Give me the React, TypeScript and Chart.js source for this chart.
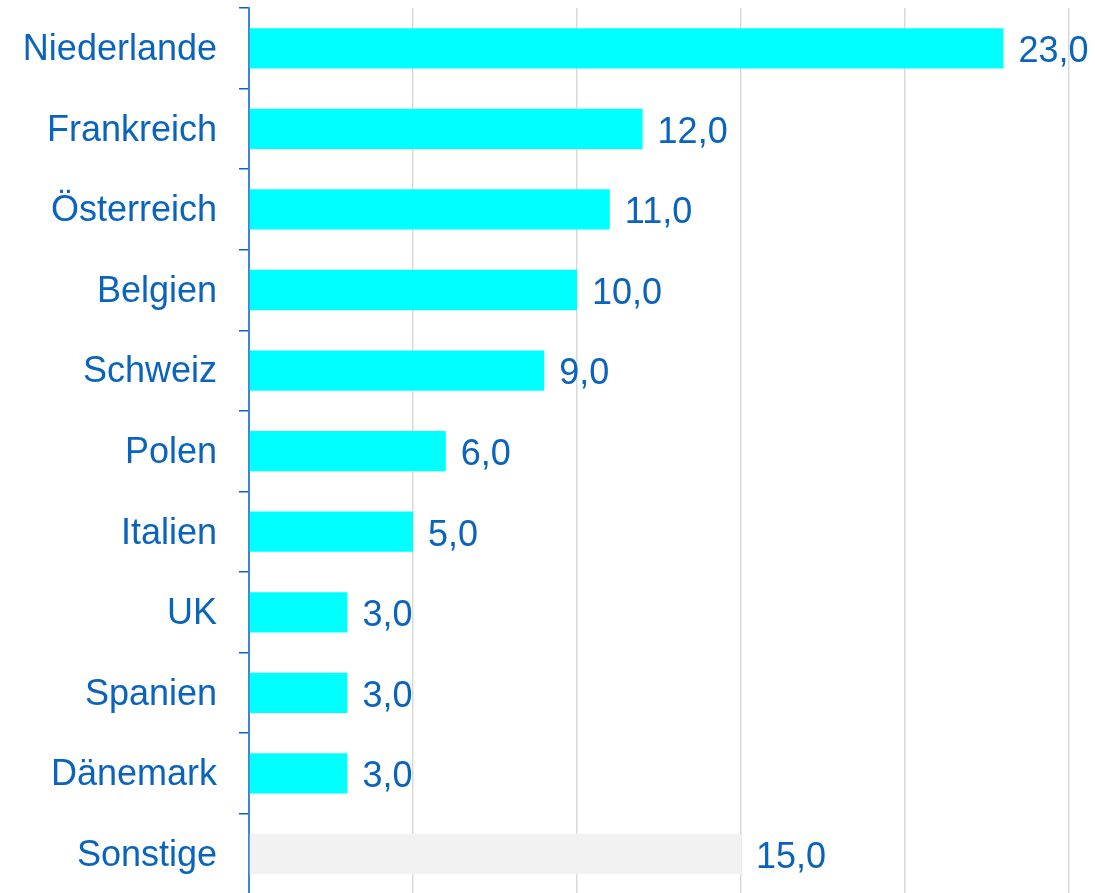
import React, { useEffect, useRef } from "react";
import { Chart, registerables } from "chart.js";

Chart.register(...registerables);

const categories = [
  "Niederlande",
  "Frankreich",
  "Österreich",
  "Belgien",
  "Schweiz",
  "Polen",
  "Italien",
  "UK",
  "Spanien",
  "Dänemark",
  "Sonstige",
];
const values = [23, 12, 11, 10, 9, 6, 5, 3, 3, 3, 15];
const axisMax = 25;
const axisStep = 5;

const BLUE = "#0a64be";
const FONT = "'Liberation Sans', Arial, sans-serif";

const valueLabels = {
  id: "valueLabels",
  afterDatasetsDraw(chart: any) {
    const ctx = chart.ctx;
    const meta = chart.getDatasetMeta(0);
    ctx.save();
    ctx.font = `36px ${FONT}`;
    ctx.fillStyle = BLUE;
    ctx.textAlign = "left";
    ctx.textBaseline = "middle";
    meta.data.forEach((bar: any, i: number) => {
      const v = values[i];
      const txt = v.toFixed(1).replace(".", ",");
      ctx.fillText(txt, bar.x + 15, bar.y + 4);
    });
    ctx.restore();
  },
};

export default function App() {
  const ref = useRef<HTMLCanvasElement | null>(null);
  useEffect(() => {
    if (!ref.current) return;
    const chart = new Chart(ref.current, {
      type: "bar",
      data: {
        labels: categories,
        datasets: [
          {
            data: values,
            backgroundColor: categories.map((c, i) =>
              i === categories.length - 1 ? "#f2f2f2" : "#00ffff"
            ),
            barPercentage: 0.5,
            categoryPercentage: 1,
          },
        ],
      },
      options: {
        indexAxis: "y",
        animation: false,
        responsive: true,
        maintainAspectRatio: false,
        layout: { padding: { top: 8, right: 26, bottom: 5.7, left: 0 } },
        plugins: { legend: { display: false }, tooltip: { enabled: false } },
        scales: {
          x: {
            min: 0,
            max: axisMax,
            ticks: { display: false, stepSize: axisStep },
            grid: {
              color: (c: any) => (c.index === 0 ? "rgba(0,0,0,0)" : "#d9d9d9"),
              lineWidth: 1.5,
              drawTicks: false,
            },
            border: { display: false },
          },
          y: {
            afterFit: (scale: any) => {
              scale.width = 249;
              scale.paddingTop = 0;
              scale.paddingBottom = 0;
            },
            ticks: {
              color: BLUE,
              font: { family: FONT, size: 36 },
              padding: 22,
              labelOffset: 2,
            },
            grid: {
              drawOnChartArea: false,
              drawTicks: true,
              tickLength: 10,
              color: BLUE,
              lineWidth: 1.5,
              offset: true,
            },
            border: { display: true, color: "#3a86d6", width: 2 },
          },
        },
      },
      plugins: [valueLabels],
    });
    return () => chart.destroy();
  }, []);
  return (
    <div
      style={{
        position: "fixed",
        top: 0,
        left: 0,
        width: 1095,
        height: 893,
        overflow: "hidden",
        background: "#fff",
      }}
    >
      <div style={{ position: "absolute", top: 0, left: 0, width: 1095, height: 900 }}>
        <canvas ref={ref} />
      </div>
    </div>
  );
}
